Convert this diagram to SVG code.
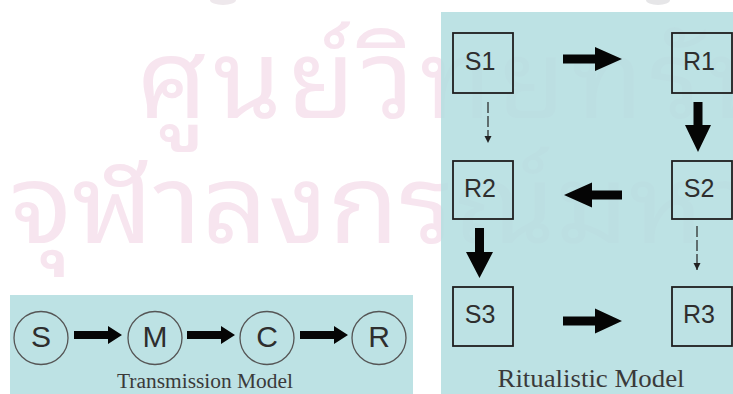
<svg xmlns="http://www.w3.org/2000/svg" width="733" height="394" viewBox="0 0 733 394">
  <style>
    .panel { fill: #b4dee0; fill-opacity: 0.88; }
    .ring { fill: none; stroke: #555; stroke-width: 1.3; }
    .box { fill: none; stroke: #1e1e1e; stroke-width: 1.8; }
    .letter { font-family: "Liberation Sans", Arial, sans-serif; fill: #2e2e2e; text-anchor: middle; }
    .big { font-size: 30px; }
    .lbl { font-size: 25px; }
    .caption { font-family: "Liberation Serif", "Times New Roman", serif; fill: #3a3a3a; text-anchor: middle; }
    .block { fill: #050505; }
    .dash { stroke: #222; stroke-width: 1.2; stroke-dasharray: 11 3; fill: none; }
    .mark { font-family: "Noto Sans Thai Looped", "Noto Sans Thai", "DejaVu Sans", sans-serif; font-size: 110px; fill: #f7e5ef; }
  </style>
  <defs>
    <marker id="tip" markerUnits="userSpaceOnUse" markerWidth="7" markerHeight="8" refX="7" refY="3.5" orient="auto">
      <path d="M0,0 L7,3.5 L0,7 z" fill="#222"/>
    </marker>
  </defs>

  <rect width="733" height="394" fill="#ffffff"/>

  <!-- watermark, printed under the panels -->
  <g id="watermark">
    <ellipse cx="223" cy="0" rx="13" ry="5" fill="#eee8ec"/>
    <ellipse cx="658" cy="0" rx="12" ry="5" fill="#e6e6e8"/>
    <text class="mark" x="137" y="118" letter-spacing="6">ศูนย์วิทยทรัพยากร</text>
    <text class="mark" transform="translate(10,243) scale(1.05,1)">จุฬาลงกรณ์มหาวิทยาลัย</text>
  </g>

  <!-- panels -->
  <rect class="panel" x="10" y="295" width="403" height="99"/>
  <rect class="panel" x="441" y="12" width="292" height="382"/>

  <!-- transmission model -->
  <g id="node-S">
    <ellipse class="ring" cx="41" cy="338" rx="27" ry="26.5"/>
    <text class="letter big" x="41" y="347">S</text>
  </g>
  <g id="node-M">
    <ellipse class="ring" cx="155" cy="338" rx="27" ry="26.5"/>
    <text class="letter big" x="155" y="347">M</text>
  </g>
  <g id="node-C">
    <ellipse class="ring" cx="267" cy="338" rx="27" ry="26.5"/>
    <text class="letter big" x="267" y="347">C</text>
  </g>
  <g id="node-R">
    <ellipse class="ring" cx="379" cy="338" rx="27" ry="26.5"/>
    <text class="letter big" x="379" y="347">R</text>
  </g>
  <text class="caption" x="205" y="388" font-size="20" textLength="176" lengthAdjust="spacingAndGlyphs">Transmission Model</text>

  <!-- ritualistic model -->
  <g id="node-S1">
    <rect class="box" x="453" y="33" width="60" height="60"/>
    <text class="letter lbl" x="480" y="70">S1</text>
  </g>
  <g id="node-R1">
    <rect class="box" x="672" y="33" width="60" height="60"/>
    <text class="letter lbl" x="699" y="70">R1</text>
  </g>
  <g id="node-R2">
    <rect class="box" x="453" y="161" width="60" height="58"/>
    <text class="letter lbl" x="480" y="197">R2</text>
  </g>
  <g id="node-S2">
    <rect class="box" x="672" y="161" width="60" height="58"/>
    <text class="letter lbl" x="699" y="197">S2</text>
  </g>
  <g id="node-S3">
    <rect class="box" x="453" y="287" width="60" height="59"/>
    <text class="letter lbl" x="480" y="323">S3</text>
  </g>
  <g id="node-R3">
    <rect class="box" x="672" y="287" width="60" height="59"/>
    <text class="letter lbl" x="699" y="323">R3</text>
  </g>
  <text class="caption" x="591" y="387" font-size="25" textLength="187" lengthAdjust="spacingAndGlyphs">Ritualistic Model</text>

  <g id="connectors">
    <!-- transmission chain -->
    <polygon class="block" points="74,331 108,331 108,326 122,335 108,344 108,339 74,339"/>
    <polygon class="block" points="187,331 221,331 221,326 235,335 221,344 221,339 187,339"/>
    <polygon class="block" points="300,331 334,331 334,326 348,335 334,344 334,339 300,339"/>
    <!-- ritual loop, solid -->
    <polygon class="block" points="563,54.5 595,54.5 595,47 622,59 595,71 595,63.5 563,63.5"/>
    <polygon class="block" points="693.5,102 702.5,102 702.5,125 711,125 698,152 685,125 693.5,125"/>
    <polygon class="block" points="622,190.5 592,190.5 592,182.5 564,195 592,207.5 592,199.5 622,199.5"/>
    <polygon class="block" points="475,228 484,228 484,252 493,252 479.5,278 466,252 475,252"/>
    <polygon class="block" points="563,316.5 595,316.5 595,308.5 622,321 595,333.5 595,325.5 563,325.5"/>
    <!-- ritual loop, dashed -->
    <line class="dash" x1="488" y1="102" x2="488" y2="143" marker-end="url(#tip)"/>
    <line class="dash" x1="697" y1="226" x2="697" y2="270" marker-end="url(#tip)"/>
  </g>
</svg>
